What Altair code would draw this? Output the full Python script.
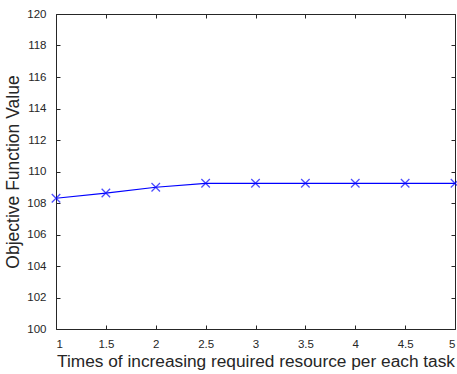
import altair as alt
import pandas as pd

x_vals = [1, 1.5, 2, 2.5, 3, 3.5, 4, 4.5, 5]
y_vals = [108.3, 108.63, 109.0, 109.25, 109.25, 109.25, 109.25, 109.25, 109.25]
x_ticks = [1, 1.5, 2, 2.5, 3, 3.5, 4, 4.5, 5]
y_ticks = [100, 102, 104, 106, 108, 110, 112, 114, 116, 118, 120]

df = pd.DataFrame({"x": x_vals, "y": y_vals})

FONT = "Liberation Sans"
AX = "#262626"
TK = 4

xs = alt.Scale(domain=[1, 5], nice=False, zero=False)
ys = alt.Scale(domain=[100, 120], nice=False, zero=False)

def xaxis(orient, labels):
    return alt.Axis(orient=orient, values=x_ticks, labels=labels, grid=False, domain=False,
                    tickSize=TK, offset=-TK, tickColor=AX, tickWidth=1,
                    labelPadding=5 + TK, labelFont=FONT, labelFontSize=11.5, labelColor=AX,
                    format="~g",
                    title="Times of increasing required resource per each task" if labels else None,
                    titleFont=FONT, titleFontSize=17.3, titleFontWeight="normal", titleColor=AX,
                    titlePadding=3)

def yaxis(orient, labels):
    return alt.Axis(orient=orient, values=y_ticks, labels=labels, grid=False, domain=False,
                    tickSize=TK, offset=-TK, tickColor=AX, tickWidth=1,
                    labelPadding=6 + TK, labelFont=FONT, labelFontSize=11.5, labelColor=AX,
                    title="Objective Function Value" if labels else None,
                    titleFont=FONT, titleFontSize=17.5, titleFontWeight="normal", titleColor=AX,
                    titlePadding=4)

line = alt.Chart(df).mark_line(color="#0000FF", strokeWidth=1.2).encode(
    x=alt.X("x:Q", scale=xs, axis=xaxis("bottom", True)),
    y=alt.Y("y:Q", scale=ys, axis=yaxis("left", True)),
)

pts = alt.Chart(df).mark_point(
    shape="M-1,-1L1,1M-1,1L1,-1", filled=False, color="#0000FF", size=72, strokeWidth=1.3
).encode(
    x=alt.X("x:Q", scale=xs, axis=xaxis("top", False)),
    y=alt.Y("y:Q", scale=ys, axis=yaxis("right", False)),
)

chart = alt.layer(line, pts).resolve_axis(x="independent", y="independent").properties(
    width=399, height=315,
    autosize=alt.AutoSizeParams(type="none"),
    padding={"left": 56, "top": 14, "right": 2, "bottom": 45},
    background="white",
).configure_view(stroke=AX, strokeWidth=1)

chart.save("out.html", embed_options={"renderer": "svg", "actions": False})
